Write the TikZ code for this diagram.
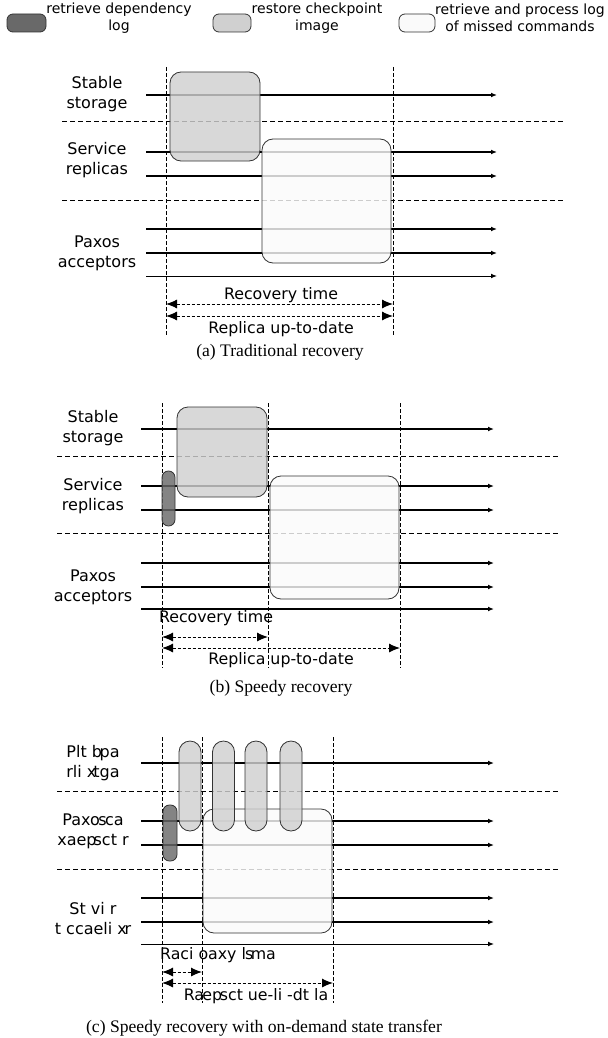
\documentclass[tikz,border=0pt]{standalone}
\usepackage{fontspec}
\setmainfont{Liberation Serif}
\newfontfamily\lblfont{DejaVu Sans}
\usetikzlibrary{arrows.meta,positioning}
\definecolor{logdark}{RGB}{105,105,105}
\definecolor{ckptgray}{RGB}{208,208,208}
\definecolor{cmdwhite}{RGB}{250,250,250}

\begin{document}
\begin{tikzpicture}[
  x=0.5pt, y=-0.5pt,
  phase/.style={rectangle, draw=black!80, line width=0.4pt, inner sep=0pt, outer sep=0pt,
    fill opacity=0.82, rounded corners=5.5pt},
  deplog/.style={phase, fill=logdark, rounded corners=3.2pt},
  ckpt/.style={phase, fill=ckptgray},
  cmdlog/.style={phase, fill=cmdwhite},
  legbox/.style={phase, fill opacity=1, rounded corners=3pt, minimum height=9pt},
  lane/.style={font=\lblfont\fontsize{8}{10}\selectfont, align=center},
  legtext/.style={font=\lblfont\fontsize{7}{8.3}\selectfont, align=center},
  msr/.style={font=\lblfont\fontsize{7.9}{10}\selectfont, inner sep=0pt},
  timeline/.style={-{Latex[length=3pt,width=2.4pt]}, line width=0.9pt},
  lastline/.style={-{Latex[length=3pt,width=2.4pt]}, line width=0.5pt},
  sep/.style={dash pattern=on 2.5pt off 1.5pt, line width=0.5pt},
  vmark/.style={dash pattern=on 2pt off 1pt, line width=0.4pt},
  span/.style={{Latex[length=5.5pt,width=4.5pt]}-{Latex[length=5.5pt,width=4.5pt]},
    dash pattern=on 1.5pt off 1pt, line width=0.5pt},
  caption/.style={font=\fontsize{8.8}{11}\selectfont}
]
\useasboundingbox (0,0) rectangle (607,1038);

% legend
\node[legbox, fill=logdark, minimum width=19.5pt] (legdep) at (26.5,23) {};
\node[legtext] (legdeptxt) at (119,18) {retrieve dependency\\log};
\node[legbox, fill=ckptgray, minimum width=19pt] (legckpt) at (232,23) {};
\node[legtext] (legckpttxt) at (317,18) {restore checkpoint\\image};
\node[legbox, fill=cmdwhite, minimum width=18pt] (legcmd) at (417,23) {};
\node[legtext] (legcmdtxt) at (520,18) {retrieve and process log\\of missed commands};

% (a) traditional recovery
\coordinate (aSepw1) at (62,122); \coordinate (aSepe1) at (563,122);
\coordinate (aSepw2) at (62,200); \coordinate (aSepe2) at (563,200);
\draw[sep] (aSepw1) -- (aSepe1);
\draw[sep] (aSepw2) -- (aSepe2);
\foreach \y [count=\i] in {95,152,176,229,253}{
  \coordinate (aTw\i) at (146,\y); \coordinate (aTe\i) at (497,\y);
  \draw[timeline] (aTw\i) -- (aTe\i);
}
\coordinate (aTw6) at (146,276); \coordinate (aTe6) at (497,276);
\draw[lastline] (aTw6) -- (aTe6);
\node[lane] (aStable) at (97,94) {Stable\\storage};
\node[lane] (aService) at (97,160) {Service\\replicas};
\node[lane] (aPaxos) at (97,253) {Paxos\\acceptors};
\coordinate (aVt1) at (166,67); \coordinate (aVb1) at (166,335);
\coordinate (aVt2) at (393,67); \coordinate (aVb2) at (393,335);
\draw[vmark] (aVt1) -- (aVb1);
\draw[vmark] (aVt2) -- (aVb2);
\node[ckpt, minimum width=45pt, minimum height=44.5pt] (aCkpt) at (215,116.5) {};
\node[cmdlog, minimum width=64.5pt, minimum height=62pt] (aCmd) at (326.5,201) {};
\coordinate (aRs) at (166,304); \coordinate (aRe) at (393,304);
\coordinate (aUs) at (166,316); \coordinate (aUe) at (393,316);
\draw[span] (aRs) -- (aRe);
\draw[span] (aUs) -- (aUe);
\node[msr] (aRectxt) at (281,295) {Recovery time};
\node[msr] (aUptxt) at (281,329) {Replica up-to-date};
\node[caption] (capA) at (280,352) {(a) Traditional recovery};

% (b) speedy recovery
\coordinate (bSepw1) at (57,456); \coordinate (bSepe1) at (558,456);
\coordinate (bSepw2) at (57,533); \coordinate (bSepe2) at (558,533);
\draw[sep] (bSepw1) -- (bSepe1);
\draw[sep] (bSepw2) -- (bSepe2);
\foreach \y [count=\i] in {429,486,510,563,587}{
  \coordinate (bTw\i) at (141,\y); \coordinate (bTe\i) at (494,\y);
  \draw[timeline] (bTw\i) -- (bTe\i);
}
\coordinate (bTw6) at (141,609); \coordinate (bTe6) at (494,609);
\draw[timeline] (bTw6) -- (bTe6);
\node[lane] (bStable) at (93,428) {Stable\\storage};
\node[lane] (bService) at (93,496) {Service\\replicas};
\node[lane] (bPaxos) at (93,587) {Paxos\\acceptors};
\coordinate (bVt1) at (162,403); \coordinate (bVb1) at (162,668);
\coordinate (bVt2) at (268,403); \coordinate (bVb2) at (268,668);
\coordinate (bVt3) at (400,403); \coordinate (bVb3) at (400,668);
\draw[vmark] (bVt1) -- (bVb1);
\draw[vmark] (bVt2) -- (bVb2);
\draw[vmark] (bVt3) -- (bVb3);
\node[ckpt, minimum width=45pt, minimum height=45pt] (bCkpt) at (222,452) {};
\node[deplog, minimum width=6.5pt, minimum height=27.5pt] (bDep) at (168.5,498.5) {};
\node[cmdlog, minimum width=64.5pt, minimum height=61.5pt] (bCmd) at (334.5,537.5) {};
\coordinate (bRs) at (162,637); \coordinate (bRe) at (268,637);
\coordinate (bUs) at (162,648); \coordinate (bUe) at (400,648);
\draw[span] (bRs) -- (bRe);
\draw[span] (bUs) -- (bUe);
\node[msr] (bRectxt) at (216,618) {Recovery time};
\node[msr] (bUptxt) at (281,660) {Replica up-to-date};
\node[caption] (capB) at (281,688) {(b) Speedy recovery};

% (c) speedy recovery with on-demand state transfer
\coordinate (cSepw1) at (57,791); \coordinate (cSepe1) at (558,791);
\coordinate (cSepw2) at (57,869); \coordinate (cSepe2) at (558,869);
\draw[sep] (cSepw1) -- (cSepe1);
\draw[sep] (cSepw2) -- (cSepe2);
\foreach \y [count=\i] in {763,821,845,898,922}{
  \coordinate (cTw\i) at (141,\y); \coordinate (cTe\i) at (494,\y);
  \draw[timeline] (cTw\i) -- (cTe\i);
}
\coordinate (cTw6) at (141,944); \coordinate (cTe6) at (494,944);
\draw[lastline] (cTw6) -- (cTe6);
\node[lane] (cStable) at (93,763) {Plt b\kern-1.2pt pa\\rli x\kern-1.5pt tga};
\node[lane] (cService) at (93,831) {Paxo\kern-0.8pt s\kern-0.8pt ca\\xaep\kern-1.5pt sct r};
\node[lane] (cPaxos) at (93,919) {St vi r\\t ccaeli x\kern-1.2pt r};
\coordinate (cVt1) at (162,737); \coordinate (cVb1) at (162,1003);
\coordinate (cVt2) at (202,737); \coordinate (cVb2) at (202,1003);
\coordinate (cVt3) at (333,737); \coordinate (cVb3) at (333,1003);
\draw[vmark] (cVt1) -- (cVb1);
\draw[vmark] (cVt2) -- (cVb2);
\draw[vmark] (cVt3) -- (cVb3);
\node[cmdlog, minimum width=64.5pt, minimum height=62pt] (cCmd) at (267.5,871) {};
\foreach \x [count=\i] in {190,223.5,256,291}{
  \node[ckpt, minimum width=11pt, minimum height=45pt] (cCkpt\i) at (\x,786) {};
}
\node[deplog, minimum width=7pt, minimum height=28pt] (cDep) at (170,833) {};
\coordinate (cRs) at (162,972); \coordinate (cRe) at (202,972);
\coordinate (cUs) at (162,983); \coordinate (cUe) at (333,983);
\draw[span] (cRs) -- (cRe);
\draw[span] (cUs) -- (cUe);
\node[msr] (cRectxt) at (218,955) {Raci oaxy l\kern-0.5pt s\kern-1.2pt ma};
\node[msr] (cUptxt) at (256,996) {Ra\kern-0.8pt ep\kern-1.2pt sct ue-li -dt la};
\node[caption] (capC) at (264,1028) {(c) Speedy recovery with on-demand state transfer};
\end{tikzpicture}
\end{document}
